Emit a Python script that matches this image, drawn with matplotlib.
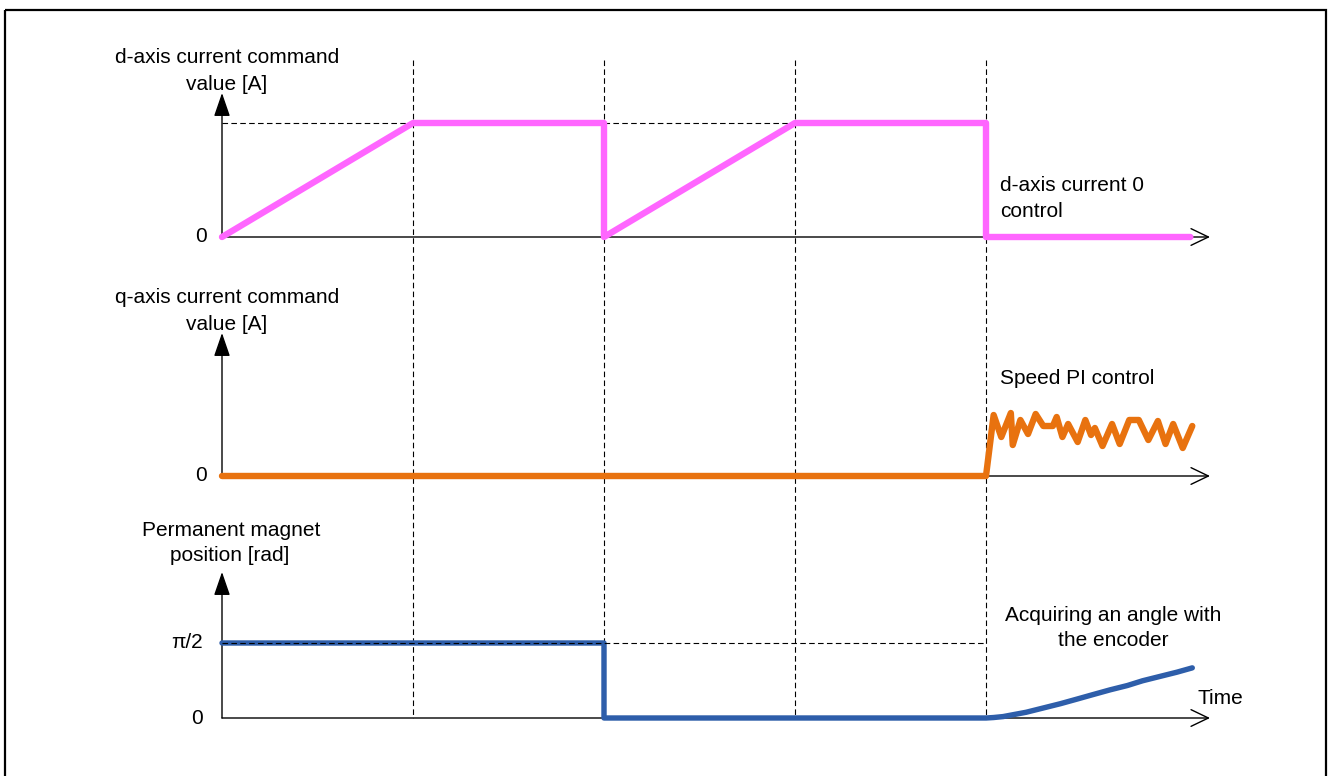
import numpy as np
import matplotlib
matplotlib.use("Agg")
import matplotlib.pyplot as plt
from matplotlib.patches import Rectangle

plt.rcParams['font.family'] = ['Liberation Sans', 'DejaVu Sans']

# ---- data (time in units of the step interval) ----
d_time = [0, 1, 2, 2, 3, 4, 4, 5.07]
d_value = [0, 1, 1, 0, 1, 1, 0, 0]

q_time = [0, 4.0, 4.04, 4.08, 4.13, 4.14, 4.18, 4.22, 4.26, 4.30, 4.35, 4.37,
          4.40, 4.43, 4.48, 4.52, 4.55, 4.57, 4.61, 4.66, 4.70, 4.75, 4.80,
          4.85, 4.90, 4.94, 4.98, 5.03, 5.08]
q_value = [0, 0, 0.61, 0.39, 0.63, 0.31, 0.56, 0.42, 0.62, 0.50, 0.50, 0.59,
           0.39, 0.52, 0.34, 0.56, 0.41, 0.48, 0.30, 0.52, 0.32, 0.56, 0.56,
           0.36, 0.55, 0.32, 0.52, 0.28, 0.50]

p_time = [0, 2, 2, 4, 4.04, 4.09, 4.13, 4.21, 4.30, 4.39, 4.48, 4.56, 4.65,
          4.74, 4.82, 4.91, 5.00, 5.08]
p_value = [np.pi / 2, np.pi / 2, 0, 0, 0.01, 0.03, 0.06, 0.12, 0.21, 0.30,
           0.40, 0.49, 0.59, 0.68, 0.78, 0.87, 0.96, 1.05]

step_times = [1, 2, 3, 4]

# ---- layout (figure pixels) ----
W, H = 1330, 776
PX_PER_T = 191.0
T0_PX = 222.0
T_AXIS_END = (1210 - T0_PX) / PX_PER_T

fig = plt.figure(figsize=(W / 100, H / 100), dpi=100)

# frame / overlay axes in pixel units
ov = fig.add_axes([0, 0, 1, 1])
ov.set_xlim(0, W)
ov.set_ylim(H, 0)
ov.axis('off')
ov.add_patch(Rectangle((5, 10), 1321, 800, fill=False, lw=1.6, ec='black', clip_on=False))

xlim = (-T0_PX / PX_PER_T, (W - T0_PX) / PX_PER_T)


def panel(zero_px, px_per_unit):
    ax = fig.add_axes([0, 0, 1, 1])
    ax.patch.set_alpha(0)
    ax.set_xlim(*xlim)
    ax.set_ylim(-(H - zero_px) / px_per_unit, zero_px / px_per_unit)
    ax.axis('off')
    return ax


def axes_arrows(ax, top_px, zero_px, px_per_unit):
    ytop = (zero_px - top_px) / px_per_unit
    ax.annotate('', xy=(0, ytop), xytext=(0, 0),
                arrowprops=dict(arrowstyle='-|>,head_length=1.45,head_width=0.5',
                                mutation_scale=10, lw=1.0, color='black',
                                shrinkA=0, shrinkB=0))
    ax.annotate('', xy=(T_AXIS_END, 0), xytext=(0, 0),
                arrowprops=dict(arrowstyle='->,head_length=1.25,head_width=0.6',
                                mutation_scale=10, lw=1.0, color='black',
                                shrinkA=0, shrinkB=0))


dash = dict(color='black', lw=0.8, linestyle=(0, (5, 3)))

# vertical step guides
ov_t = fig.add_axes([0, 0, 1, 1])
ov_t.patch.set_alpha(0)
ov_t.set_xlim(*xlim)
ov_t.set_ylim(H, 0)
ov_t.axis('off')
for t in step_times:
    ov_t.plot([t, t], [60, 718], **dash)

fs = 15

# ---- d-axis panel ----
D_ZERO, D_SCALE = 237, 114
axd = panel(D_ZERO, D_SCALE)
axes_arrows(axd, 93, D_ZERO, D_SCALE)
axd.plot([0, 1], [1, 1], **dash)
axd.plot([2, 3], [1, 1], **dash)
axd.plot(d_time, d_value, color='#FF66FF', lw=4.6, solid_capstyle='round',
         solid_joinstyle='round', zorder=3)
axd.text(-0.08, 0, '0', fontsize=fs, ha='right', va='center')

# ---- q-axis panel ----
Q_ZERO, Q_SCALE = 476, 100
axq = panel(Q_ZERO, Q_SCALE)
axes_arrows(axq, 333, Q_ZERO, Q_SCALE)
axq.plot(q_time, q_value, color='#E8720F', lw=4.6, solid_capstyle='round',
         solid_joinstyle='round', zorder=3)
axq.text(-0.08, 0, '0', fontsize=fs, ha='right', va='center')

# ---- magnet position panel ----
P_ZERO, P_SCALE = 718, 75 / (np.pi / 2)
axp = panel(P_ZERO, P_SCALE)
axes_arrows(axp, 572, P_ZERO, P_SCALE)
axp.plot(p_time, p_value, color='#2E5EAA', lw=3.9, solid_capstyle='round',
         solid_joinstyle='round', zorder=3)
axp.plot([0, 4], [np.pi / 2, np.pi / 2], zorder=4, **dash)
axp.text(-0.1, np.pi / 2, 'π/2', fontsize=fs, ha='right', va='center')
axp.text(-0.1, 0, '0', fontsize=fs, ha='right', va='center')

# ---- labels (pixel positions on the overlay) ----
ov.text(227, 63, 'd-axis current command', fontsize=fs, ha='center', va='baseline')
ov.text(227, 90, 'value [A]', fontsize=fs, ha='center', va='baseline')
ov.text(227, 303, 'q-axis current command', fontsize=fs, ha='center', va='baseline')
ov.text(227, 330, 'value [A]', fontsize=fs, ha='center', va='baseline')
ov.text(231, 536, 'Permanent magnet', fontsize=fs, ha='center', va='baseline')
ov.text(230, 561, 'position [rad]', fontsize=fs, ha='center', va='baseline')

ov.text(1000, 191, 'd-axis current 0', fontsize=fs, ha='left', va='baseline')
ov.text(1000, 217, 'control', fontsize=fs, ha='left', va='baseline')
ov.text(1000, 384, 'Speed PI control', fontsize=fs, ha='left', va='baseline')
ov.text(1113, 621, 'Acquiring an angle with', fontsize=fs, ha='center', va='baseline')
ov.text(1113, 646, 'the encoder', fontsize=fs, ha='center', va='baseline')
ov.text(1197, 704, 'Time', fontsize=fs, ha='left', va='baseline')

fig.savefig('out.png', dpi=100)
